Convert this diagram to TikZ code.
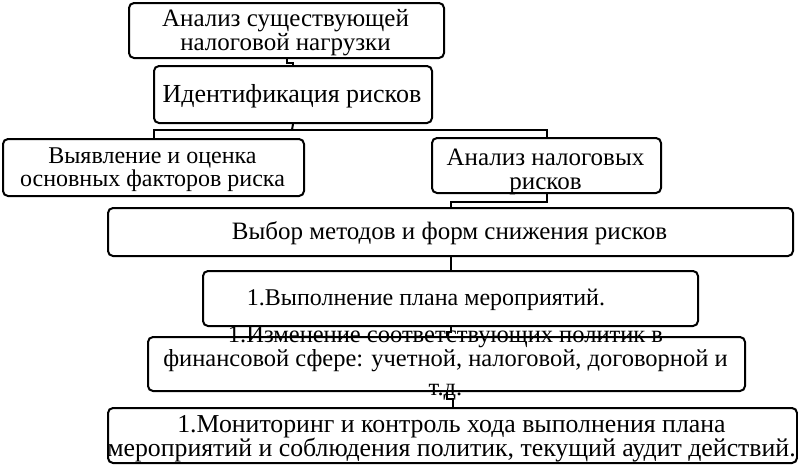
\documentclass[tikz,border=0pt]{standalone}
\usepackage{fontspec}
\setmainfont{Liberation Serif}
\begin{document}
\begin{tikzpicture}[x=1pt,y=-1pt,
  box/.style={draw, line width=2pt, rounded corners=5pt, inner sep=0pt, anchor=north west},
  txt/.style={inner sep=0pt, anchor=base, font=\fontsize{#1}{#1}\selectfont},
  txt/.default=24,
  link/.style={line width=2pt}]
\useasboundingbox (0,0) rectangle (798,464);
% boxes
\node[box, minimum width=315pt, minimum height=55pt] (b1) at (128,2) {};
\node[box, minimum width=278pt, minimum height=57pt] (b2) at (153,65) {};
\node[box, minimum width=301pt, minimum height=57pt] (b3) at (2,138) {};
\node[box, minimum width=229pt, minimum height=55pt] (b4) at (431,137) {};
\node[box, minimum width=685pt, minimum height=48pt] (b5) at (107,207) {};
\node[box, minimum width=495pt, minimum height=55pt] (b6) at (202,270) {};
\node[box, minimum width=597pt, minimum height=54pt] (b7) at (147,336) {};
\node[box, minimum width=689pt, minimum height=55pt] (b8) at (107,407) {};
% texts
\node[txt=25] (t1a) at (285.5,26) {Анализ существующей};
\node[txt=25] (t1b) at (285.5,50) {налоговой нагрузки};
\node[txt=26] (t2) at (292,102) {Идентификация рисков};
\node[txt=24] (t3a) at (152.5,163) {Выявление и оценка};
\node[txt=24] (t3b) at (152.5,186) {основных факторов риска};
\node[txt=25] (t4a) at (545.5,165) {Анализ налоговых};
\node[txt=25] (t4b) at (545.5,189) {рисков};
\node[txt=25] (t5) at (449.5,239) {Выбор методов и форм снижения рисков};
\node[txt=24] (t6) at (426,305) {1.Выполнение плана мероприятий.};
\node[txt=24.5] (t7a) at (445.5,342) {1.Изменение соответствующих политик в};
\node[txt=24.5] (t7b) at (445.5,366) {финансовой сфере: учетной, налоговой, договорной и};
\node[txt=24.5] (t7c) at (445.5,395) {т.д.};
\node[txt=25.8] (t8a) at (451.5,432) {1.Мониторинг и контроль хода выполнения плана};
\node[txt=25.8] (t8b) at (451.5,456) {мероприятий и соблюдения политик, текущий аудит действий.};
% connectors
\coordinate (bus) at (292,130);
\draw[link] (b1.south) -- ++(0,4) -| (b2.north);
\draw[link] (b2.south) -- (bus);
\draw[link] (b3.north) |- (bus) -| (b4.north);
\draw[link] (b4.south) -- ++(0,8) -| (b5.north);
\draw[link] (b5.south) -- (b6.north);
\draw[link] (b6.south) -- ++(0,5) -| (b7.north);
\draw[link] (b7.south) -- ++(0,7) -| (b8.north);
\end{tikzpicture}
\end{document}
